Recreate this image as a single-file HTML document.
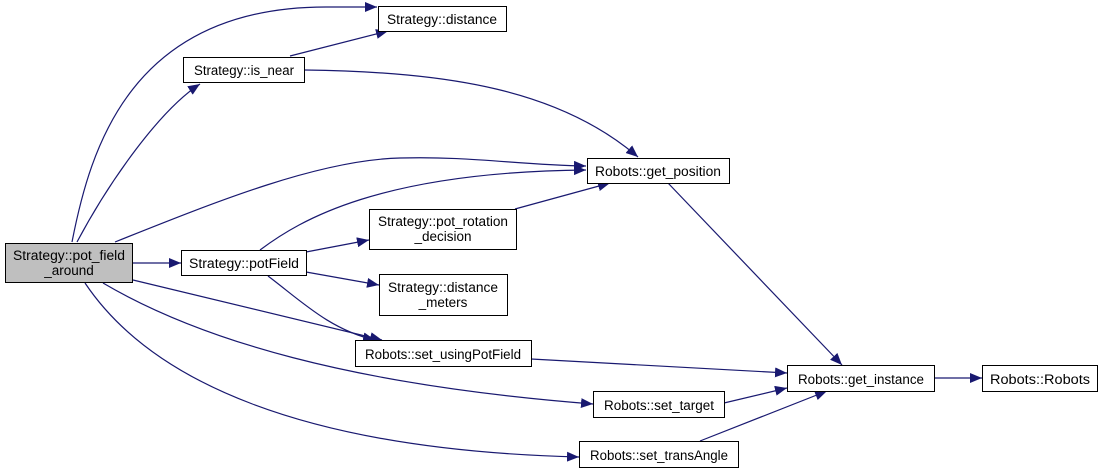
<!DOCTYPE html>
<html><head><meta charset="utf-8"><style>
html,body{margin:0;padding:0;background:#fff;}
svg{display:block;}
text{font-family:"Liberation Sans",sans-serif;font-size:13.5px;fill:#000;}
</style></head><body>
<svg width="1100" height="473" viewBox="0 0 1100 473" xmlns="http://www.w3.org/2000/svg">
<defs>
<marker id="a" markerWidth="13" markerHeight="10" refX="12" refY="5" orient="auto" markerUnits="userSpaceOnUse">
<polygon points="0,0 12,5 0,10" fill="#191970"/>
</marker>
</defs>
<g fill="none" stroke="#191970" stroke-width="1.2" marker-end="url(#a)">
<path d="M72,242 C90,150 130,5 330,7 L377,7"/>
<path d="M77,242 C110,180 160,110 200,84"/>
<path d="M290,56 L388,31"/>
<path d="M305,70 C450,72 560,90 638,157"/>
<path d="M115,242 C220,200 320,160 400,158 C470,156 520,165 586,166"/>
<path d="M260,250 C300,220 380,172 586,170"/>
<path d="M515,209 L610,183"/>
<path d="M133,263 L181,263"/>
<path d="M306,252 L369,240"/>
<path d="M306,272 L379,285"/>
<path d="M268,276 C300,300 330,330 375,340"/>
<path d="M133,280 L382,340"/>
<path d="M103,283 C200,340 350,385 593,404"/>
<path d="M85,283 C150,380 300,450 579,457"/>
<path d="M668,183 L842,365"/>
<path d="M531,359 L787,373"/>
<path d="M724,403 L787,388"/>
<path d="M700,441 L827,391"/>
<path d="M934,378 L982,378"/>
</g>
<g stroke="#000" stroke-width="1">
<rect x="5.5" y="243.5" width="127" height="39" fill="#bfbfbf"/>
<rect x="378.5" y="6.5" width="128" height="25" fill="#fff"/>
<rect x="183.5" y="57.5" width="121" height="25" fill="#fff"/>
<rect x="587.5" y="158.5" width="142" height="25" fill="#fff"/>
<rect x="369.5" y="209.5" width="147" height="40" fill="#fff"/>
<rect x="181.5" y="250.5" width="125" height="25" fill="#fff"/>
<rect x="379.5" y="274.5" width="128" height="41" fill="#fff"/>
<rect x="355.5" y="340.5" width="176" height="26" fill="#fff"/>
<rect x="787.5" y="365.5" width="147" height="26" fill="#fff"/>
<rect x="982.5" y="365.5" width="115" height="26" fill="#fff"/>
<rect x="593.5" y="391.5" width="131" height="26" fill="#fff"/>
<rect x="579.5" y="441.5" width="159" height="26" fill="#fff"/>
</g>
<g text-anchor="middle">
<text x="69" y="260" textLength="112" lengthAdjust="spacingAndGlyphs">Strategy::pot_field</text>
<text x="69" y="275">_around</text>
<text x="442" y="24" textLength="110" lengthAdjust="spacingAndGlyphs">Strategy::distance</text>
<text x="244" y="75" textLength="100" lengthAdjust="spacingAndGlyphs">Strategy::is_near</text>
<text x="658" y="176" textLength="126" lengthAdjust="spacingAndGlyphs">Robots::get_position</text>
<text x="443" y="226" textLength="130" lengthAdjust="spacingAndGlyphs">Strategy::pot_rotation</text>
<text x="443" y="241">_decision</text>
<text x="244" y="268" textLength="110" lengthAdjust="spacingAndGlyphs">Strategy::potField</text>
<text x="443" y="292" textLength="110" lengthAdjust="spacingAndGlyphs">Strategy::distance</text>
<text x="443" y="307">_meters</text>
<text x="443" y="359" textLength="156" lengthAdjust="spacingAndGlyphs">Robots::set_usingPotField</text>
<text x="861" y="384" textLength="126" lengthAdjust="spacingAndGlyphs">Robots::get_instance</text>
<text x="1040" y="384" textLength="100" lengthAdjust="spacingAndGlyphs">Robots::Robots</text>
<text x="659" y="410" textLength="110" lengthAdjust="spacingAndGlyphs">Robots::set_target</text>
<text x="659" y="460" textLength="138" lengthAdjust="spacingAndGlyphs">Robots::set_transAngle</text>
</g>
</svg>
</body></html>
